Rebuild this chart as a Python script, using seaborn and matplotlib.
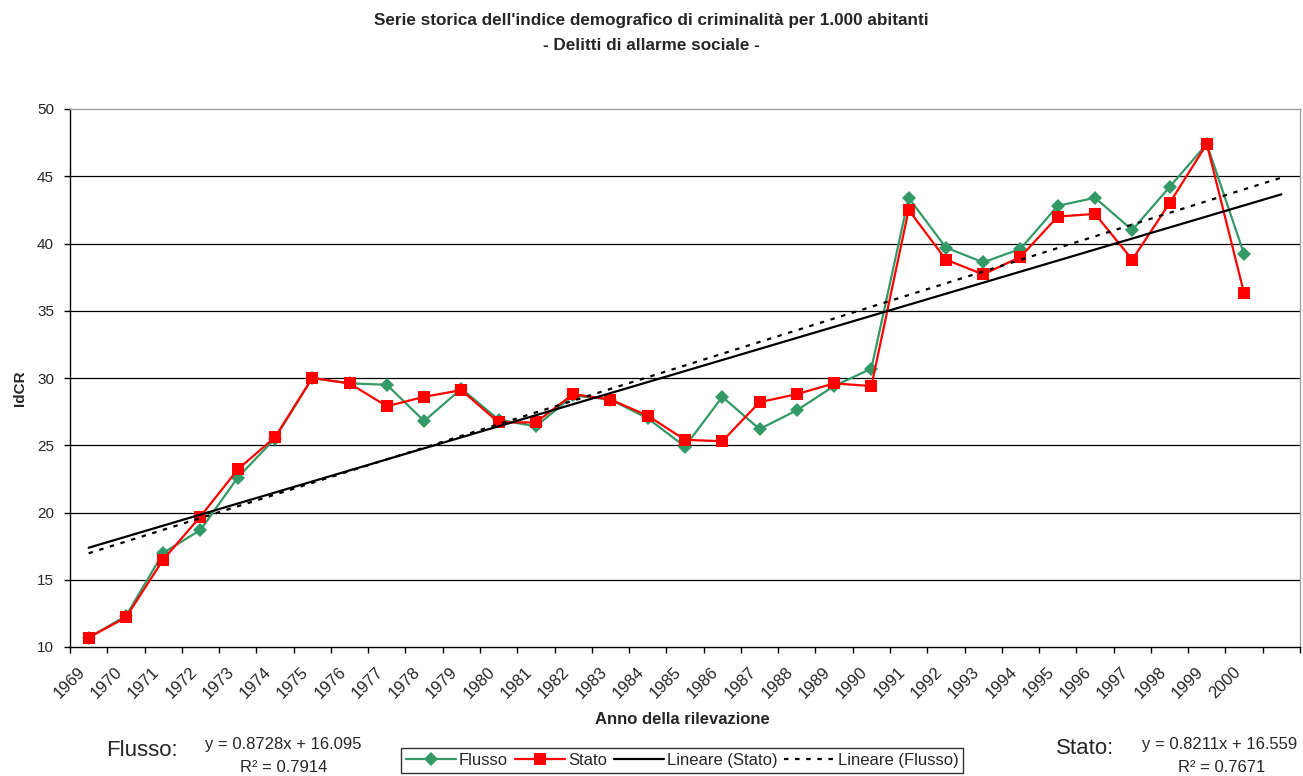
import numpy as np
import pandas as pd
import matplotlib.pyplot as plt
import seaborn as sns
from matplotlib.lines import Line2D
from matplotlib.transforms import ScaledTranslation

# Serie storica IdCR (delitti di allarme sociale)
anni = [str(a) for a in range(1969, 2001)]
flusso = [10.7, 12.3, 17.0, 18.7, 22.6, 25.5, 30.0, 29.6, 29.5, 26.8, 29.2,
          26.9, 26.4, 28.7, 28.4, 27.0, 24.9, 28.6, 26.2, 27.6, 29.4, 30.7,
          43.4, 39.7, 38.6, 39.6, 42.8, 43.4, 41.0, 44.2, 47.4, 39.2]
stato = [10.7, 12.2, 16.5, 19.7, 23.2, 25.6, 30.0, 29.6, 27.9, 28.6, 29.1,
         26.7, 26.7, 28.8, 28.4, 27.2, 25.4, 25.3, 28.2, 28.8, 29.6, 29.4,
         42.5, 38.8, 37.7, 39.0, 42.0, 42.2, 38.8, 43.0, 47.4, 36.3]

# tendenze lineari (come da equazioni riportate sul grafico, x = 1..n, +1 periodo)
pend_flusso, int_flusso, r2_flusso = 0.8728, 16.095, 0.7914
pend_stato, int_stato, r2_stato = 0.8211, 16.559, 0.7671

col_flusso = "#339966"
col_stato = "#FF0000"

sns.set_style("white")
plt.rcParams["font.family"] = ["Liberation Sans", "DejaVu Sans"]

pos = np.arange(1, len(anni) + 1)
df = pd.DataFrame({
    "pos": np.concatenate([pos, pos]),
    "valore": flusso + stato,
    "serie": ["Flusso"] * len(anni) + ["Stato"] * len(anni),
})

fig = plt.figure(figsize=(13.03, 7.76), dpi=100)
ax = fig.add_axes([70 / 1303, 1 - 647 / 776, 1230 / 1303, 538 / 776])

sns.lineplot(data=df[df.serie == "Flusso"], x="pos", y="valore",
             color=col_flusso, marker="D", markersize=7.5, markeredgewidth=0,
             linewidth=1.6, ax=ax)
sns.lineplot(data=df[df.serie == "Stato"], x="pos", y="valore",
             color=col_stato, marker="s", markersize=8.5, markeredgewidth=0,
             linewidth=1.6, ax=ax)

x_tr = np.arange(1, len(anni) + 2)
sns.lineplot(x=x_tr, y=pend_stato * x_tr + int_stato, color="black",
             linewidth=1.6, ax=ax)
sns.lineplot(x=x_tr, y=pend_flusso * x_tr + int_flusso, color="black",
             linewidth=1.6, linestyle=(0, (2, 3)), ax=ax)

# assi in stile Excel
ax.set_xlim(0.5, len(anni) + 1.5)
ax.set_ylim(10, 50)
ax.set_yticks(range(10, 51, 5))
ax.set_xticks(np.arange(0.5, len(anni) + 2, 1))
ax.set_xticklabels([])
ax.set_xticks(pos, minor=True)
ax.set_xticklabels(anni, minor=True)
ax.tick_params(axis="x", which="major", direction="out", length=4.5,
               width=1, color="black", bottom=True)
ax.tick_params(axis="x", which="minor", length=0, pad=16, labelsize=12)
ax.tick_params(axis="y", direction="out", length=4.5, width=1,
               color="black", left=True, labelsize=11, pad=7)
for lab in ax.get_xticklabels(minor=True):
    lab.set_rotation(45)
    lab.set_ha("right")
    lab.set_va("center")
    lab.set_rotation_mode("anchor")
    lab.set_transform(lab.get_transform() +
                      ScaledTranslation(-6 / 100, 0, fig.dpi_scale_trans))

ax.grid(False)
for y in range(15, 50, 5):
    ax.axhline(y, color="black", linewidth=0.9, zorder=0)
for s in ["left", "bottom"]:
    ax.spines[s].set_color("black")
    ax.spines[s].set_linewidth(1)
for s in ["top", "right"]:
    ax.spines[s].set_color("#a0a0a0")
    ax.spines[s].set_linewidth(1)
ax.set_xlabel("")
ax.set_ylabel("")

# titoli
fig.text(0.5, 1 - 20 / 776, "Serie storica dell'indice demografico di criminalità per 1.000 abitanti",
         ha="center", va="center", fontsize=12.3, fontweight="bold")
fig.text(0.5, 1 - 45 / 776, "- Delitti di allarme sociale -",
         ha="center", va="center", fontsize=12.3, fontweight="bold")
fig.text(682 / 1303, 1 - 719 / 776, "Anno della rilevazione",
         ha="center", va="center", fontsize=12, fontweight="bold")
fig.text(20 / 1303, 1 - 388 / 776, "IdCR", rotation=90,
         ha="center", va="center", fontsize=11, fontweight="bold")

# equazioni delle tendenze
fig.text(142 / 1303, 1 - 750 / 776, "Flusso:", ha="center", va="center", fontsize=16)
fig.text(283 / 1303, 1 - 744 / 776, f"y = {pend_flusso}x + {int_flusso}",
         ha="center", va="center", fontsize=12)
fig.text(284 / 1303, 1 - 767 / 776, f"R² = {r2_flusso}",
         ha="center", va="center", fontsize=12)
fig.text(1085 / 1303, 1 - 749 / 776, "Stato:", ha="center", va="center", fontsize=16)
fig.text(1220 / 1303, 1 - 744 / 776, f"y = {pend_stato}x + {int_stato}",
         ha="center", va="center", fontsize=12)
fig.text(1222 / 1303, 1 - 767 / 776, f"R² = {r2_stato}",
         ha="center", va="center", fontsize=12)

# legenda
handles = [
    Line2D([], [], color=col_flusso, marker="D", markersize=7.5, markeredgewidth=0, linewidth=1.6),
    Line2D([], [], color=col_stato, marker="s", markersize=8.5, markeredgewidth=0, linewidth=1.6),
    Line2D([], [], color="black", linewidth=1.6),
    Line2D([], [], color="black", linewidth=1.6, linestyle=(0, (2, 3))),
]
leg = fig.legend(handles, ["Flusso", "Stato", "Lineare (Stato)", "Lineare (Flusso)"],
                 loc="upper center", bbox_to_anchor=(682 / 1303, 1 - 748 / 776),
                 ncol=4, fontsize=12, frameon=True, fancybox=False,
                 handlelength=3.0, handletextpad=0.2, columnspacing=0.4,
                 borderpad=0.3, borderaxespad=0)
leg.get_frame().set_edgecolor("black")
leg.get_frame().set_linewidth(1)

fig.savefig("out.png", dpi=100)
